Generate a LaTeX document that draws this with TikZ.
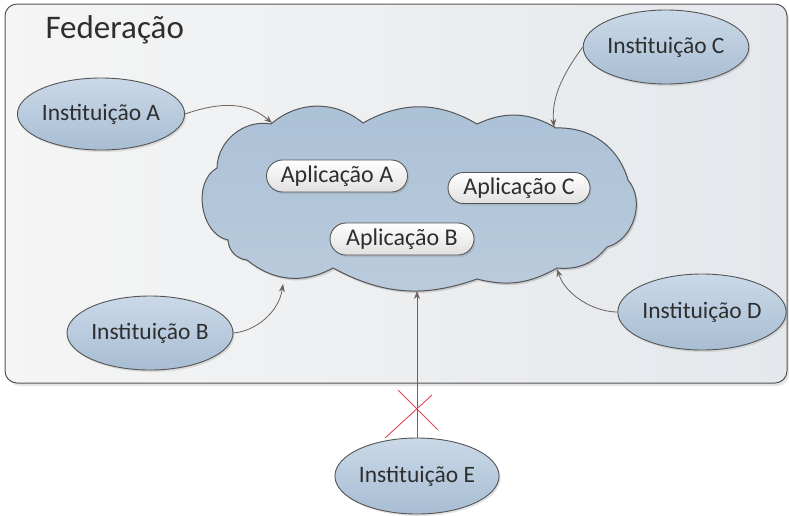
\documentclass[tikz,border=0pt]{standalone}
\usepackage{fontspec}
\setmainfont{Carlito}
\usetikzlibrary{arrows.meta,shapes.geometric,shapes.misc,shadows}

\definecolor{edge}{HTML}{555555}
\definecolor{arrowc}{HTML}{6E625A}
\definecolor{txt}{HTML}{2E2E2E}
\definecolor{insttop}{HTML}{CAD9E8}
\definecolor{instbot}{HTML}{A8BDD3}
\definecolor{cloudtop}{HTML}{ABC1D7}
\definecolor{cloudbot}{HTML}{BACBDC}
\definecolor{crossred}{HTML}{E2445A}

\tikzset{
  inst/.style={ellipse, draw=edge, line width=0.9pt, inner sep=0pt,
    top color=insttop, bottom color=instbot, text=txt,
    font=\fontsize{23.5}{25}\selectfont,
    drop shadow={opacity=0.22, shadow xshift=1.5pt, shadow yshift=-2pt}},
  app/.style={rounded rectangle, draw=edge, line width=0.9pt, inner sep=0pt,
    top color=white, bottom color=black!12, text=txt,
    font=\fontsize{24}{26}\selectfont,
    drop shadow={opacity=0.22, shadow xshift=1.5pt, shadow yshift=-2pt}},
  link/.style={draw=arrowc, line width=0.8pt,
    -{Stealth[length=8pt,width=6pt]}},
}

\begin{document}
\begin{tikzpicture}[x=1pt,y=-1pt]
\useasboundingbox (0,0) rectangle (789,515);

% federation frame
\fill[black,opacity=0.10,rounded corners=12pt] (8,7) rectangle (789,386);
\shade[left color=black!4, right color={rgb,255:red,228;green,232;blue,236},
  rounded corners=12pt] (5,4) rectangle (787,383);
\draw[edge, line width=1pt, rounded corners=12pt] (5,4) rectangle (787,383);
\node[anchor=west, text=txt, font=\fontsize{33}{35}\selectfont] (fed) at (42,30) {Federação};

% cloud of applications: puffs between the valley points
\def\cloudpath{(217,168) to[bend left=50] (271,124) to[bend left=40] (363,123)
  to[bend left=30] (477,124) to[bend left=28] (556,128)
  to[bend left=38] (628,180) to[bend left=58] (607,247)
  to[bend left=28] (557,268) to[bend left=22] (477,279)
  to[bend left=24] (333,268) to[bend left=34] (247,260)
  to[bend left=40] (228,240) to[bend left=70] cycle}
\fill[black,opacity=0.14,xshift=1.5pt,yshift=-2pt] \cloudpath;
\shade[top color=cloudtop, bottom color=cloudbot] \cloudpath;
\draw[edge, line width=1pt] \cloudpath;

\node[app, minimum width=141pt, minimum height=32pt] (appA) at (337,176) {Aplicação A};
\node[app, minimum width=142pt, minimum height=31pt] (appC) at (519,188) {Aplicação C};
\node[app, minimum width=144pt, minimum height=32pt] (appB) at (402,239) {Aplicação B};

% institutions
\node[inst, minimum width=158pt, minimum height=72pt] (instA) at (101,114) {Instituição A};
\node[inst, minimum width=152pt, minimum height=74pt] (instC) at (666,47) {Instituição C};
\node[inst, minimum width=160pt, minimum height=74pt] (instB) at (150,333) {Instituição B};
\node[inst, minimum width=160pt, minimum height=76pt] (instD) at (702,312) {Instituição D};
\node[inst, minimum width=159pt, minimum height=76pt] (instE) at (417,476) {Instituição E};

% connection points on the cloud outline
\coordinate (tipA) at (272,123);
\coordinate (tipC) at (554,127);
\coordinate (tipB) at (283,284);
\coordinate (tipD) at (557,269);
\coordinate (tipE) at (417,291);

\draw[link] (instA.east) .. controls (225,100) and (250,104) .. (tipA);
\draw[link] (instC.west) .. controls (566,70) and (551,95) .. (tipC);
\draw[link] (instB.east) .. controls (256,331) and (279,312) .. (tipB);
\draw[link] (instD.west) .. controls (595,312) and (566,296) .. (tipD);
\draw[link] (instE.north) -- (tipE);

% blocked access
\coordinate (xa1) at (398,390);
\coordinate (xa2) at (438,430);
\coordinate (xb1) at (432,395);
\coordinate (xb2) at (385,438);
\draw[crossred, line width=0.9pt] (xa1) -- (xa2);
\draw[crossred, line width=0.9pt] (xb1) -- (xb2);
\end{tikzpicture}
\end{document}
